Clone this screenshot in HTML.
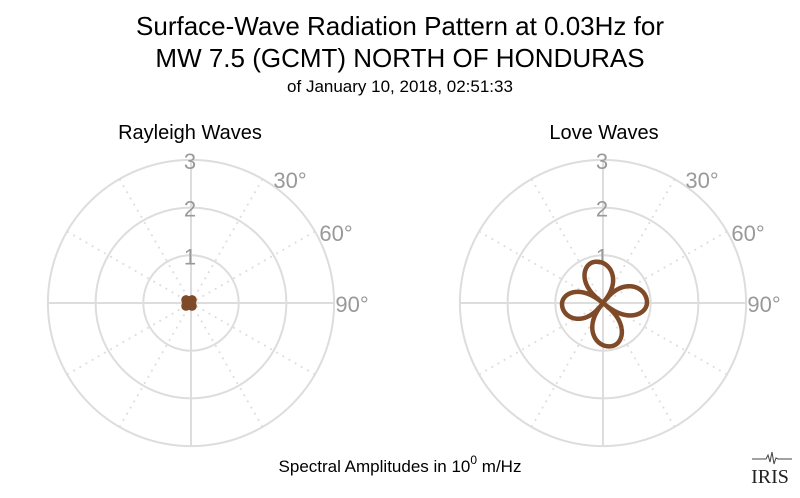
<!DOCTYPE html>
<html><head><meta charset="utf-8"><style>
html,body{margin:0;padding:0;background:#fff;}
svg text{font-family:"Liberation Sans",sans-serif;}
</style></head><body>
<svg id="s" width="800" height="493" xmlns="http://www.w3.org/2000/svg">
<rect width="800" height="493" fill="#fff"/>
<text x="400" y="35" text-anchor="middle" font-size="26" fill="#000">Surface-Wave Radiation Pattern at 0.03Hz for</text>
<text x="400" y="67" text-anchor="middle" font-size="26" fill="#000">MW 7.5 (GCMT) NORTH OF HONDURAS</text>
<text x="400" y="92" text-anchor="middle" font-size="17" fill="#000">of January 10, 2018, 02:51:33</text>
<text x="190" y="139" text-anchor="middle" font-size="20" fill="#000">Rayleigh Waves</text>
<text x="604" y="139" text-anchor="middle" font-size="20" fill="#000">Love Waves</text>
<text x="400" y="472" text-anchor="middle" font-size="17" fill="#000">Spectral Amplitudes in 10<tspan dy="-8" font-size="12">0</tspan><tspan dy="8"> m/Hz</tspan></text>
<g id="g1"></g><g id="g2"></g>
<path d="M752 459 h14 l2 -4 l2 7 l2 -10 l2 12 l2 -6 l2 1 h14" stroke="#444" stroke-width="1" fill="none"/>
<text x="770" y="483" text-anchor="middle" font-size="20" fill="#222" style="font-family:'Liberation Serif',serif">IRIS</text>
</svg>
<script>
var NS="http://www.w3.org/2000/svg";
function el(p,t,a,txt){var e=document.createElementNS(NS,t);for(var k in a)e.setAttribute(k,a[k]);if(txt)e.textContent=txt;p.appendChild(e);return e;}
function polar(g,cx,cy){
 var u=47.7;
 for(var a=0;a<360;a+=30){var r=a*Math.PI/180;var solid=a%90==0;
  el(g,"line",{x1:cx,y1:cy,x2:cx+143*Math.sin(r),y2:cy-143*Math.cos(r),stroke:"#ddd","stroke-width":2,"stroke-dasharray":solid?"none":"0.1,7","stroke-linecap":solid?"butt":"round"});}
 for(var i=1;i<=3;i++)el(g,"circle",{cx:cx,cy:cy,r:u*i,fill:"none",stroke:"#ddd","stroke-width":2});
 for(var i=1;i<=3;i++)el(g,"text",{x:cx-1,y:cy-u*i+9,"text-anchor":"middle","font-size":22,fill:"#999"},""+i);
 el(g,"text",{x:cx+99,y:cy-115,"text-anchor":"middle","font-size":22,fill:"#999"},"30°");
 el(g,"text",{x:cx+145,y:cy-62,"text-anchor":"middle","font-size":22,fill:"#999"},"60°");
 el(g,"text",{x:cx+161,y:cy+9,"text-anchor":"middle","font-size":22,fill:"#999"},"90°");
}
function lobes(g,cx,cy,peaks,R,sw,pw){
 var n=peaks.length,d="";
 for(var t=0;t<=3600;t++){var th=t/10;var r=0;
  for(var i=0;i<n;i++){var p=peaks[i],prev=peaks[(i+n-1)%n],next=peaks[(i+1)%n];
   var dl=((p-prev)+360)%360,dr=((next-p)+360)%360;var dd=((th-p)+540)%360-180;
   var w=dd>=0?dr:dl;if(Math.abs(dd)<w/2){r=R[i]*Math.pow(Math.cos(Math.PI*dd/w),pw);}}
  var rr=th*Math.PI/180;d+=(t?"L":"M")+(cx+r*Math.sin(rr)).toFixed(2)+" "+(cy-r*Math.cos(rr)).toFixed(2);}
 el(g,"path",{d:d+"Z",fill:"none",stroke:"#7f4a28","stroke-width":sw,"stroke-linejoin":"round"});
}
var g1=document.getElementById("g1"),g2=document.getElementById("g2");
polar(g1,191,303);polar(g2,603,303);
lobes(g1,189,303,[315,45,135,225],[6,6,6,6],6,0.7);
lobes(g2,603,303,[347,89,168,268],[42,44,44,41],4.5,0.6);
</script>
</body></html>
